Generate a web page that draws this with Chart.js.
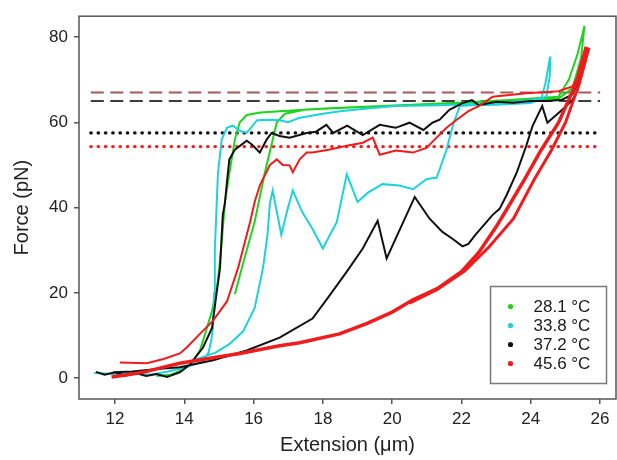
<!DOCTYPE html>
<html>
<head>
<meta charset="utf-8">
<script src="https://cdn.jsdelivr.net/npm/chart.js@4.4.0/dist/chart.umd.min.js"></script>
<style>
  html, body { margin: 0; padding: 0; background: #fff; }
</style>
</head>
<body>
<canvas id="fuerzaChart" width="617" height="460"></canvas>
<script>
// --- axis ticks ---
var xTicks = [12, 14, 16, 18, 20, 22, 24, 26];
var yTicks = [0, 20, 40, 60, 80];

var legendLabels = ['28.1 °C', '33.8 °C', '37.2 °C', '45.6 °C'];
var legendColors = ['#1fd31f', '#1ed2dc', '#111111', '#ee1c1c'];

// --- 28.1 C ---
var greenX = [13.2, 13.6, 13.9, 14.16, 14.45, 14.6, 14.8, 14.97, 15.08, 15.17, 15.3, 15.46, 15.6, 15.8, 16.2, 16.75, 18.2, 20.2, 21.9, 23.5, 24.8, 25.1, 25.35, 25.55, 25.45, 25.2, 24.8, 23, 21, 19, 17.5, 16.9, 16.67, 16.32, 16.03, 15.8, 15.6, 15.46];
var greenY = [0.5, 0.8, 1.8, 3, 6.5, 10.4, 15.8, 22.7, 32, 41, 48, 56, 60, 61.7, 62.3, 62.6, 63.3, 64, 64.6, 65.3, 66, 70, 76, 82.6, 75, 68, 65.5, 64.8, 64.2, 63.5, 63, 62, 60, 48, 36.7, 30, 24, 19.7];

// --- 33.8 C ---
var cyanX = [11.4, 12, 12.5, 13, 13.5, 14, 14.5, 14.7, 14.78, 14.83, 14.86, 14.88, 14.92, 14.97, 15.08, 15.23, 15.4, 15.6, 15.8, 15.95, 16.1, 16.5, 16.75, 17.0, 17.3, 18.0, 18.5, 19.2, 20.1, 21.4, 22.5, 23.5, 24.3, 24.42, 24.56, 24.55, 24.45, 24, 23, 22.3, 21.95, 21.74, 21.57, 21.37, 21.28, 21.0, 20.6, 20.2, 19.72, 19.3, 19.0, 18.69, 18.4, 18.2, 18.0, 17.7, 17.4, 17.13, 16.96, 16.8, 16.55, 16.47, 16.4, 16.27, 16.03, 15.7, 15.3, 14.9, 14.65, 14.1];
var cyanY = [1.2, 1, 1.3, 0.8, 1.5, 2.5, 3.8, 6, 9, 12, 20, 30, 38, 48, 56, 58.7, 59.2, 58, 57.5, 59, 60.5, 60.6, 60.5, 60, 61, 62, 62.6, 63.2, 63.8, 64, 64.3, 64.8, 65.5, 69, 75.4, 71, 66, 64.5, 64.1, 64, 63.8, 59, 53.6, 49, 47, 46.7, 44.3, 45.2, 45.5, 43.5, 41.3, 47.8, 36.6, 33.6, 30.4, 35, 39, 44, 39, 33.6, 44, 41, 33.6, 25.8, 16.5, 11, 8, 6, 5.3, 3.7];

// --- 37.2 C ---
var blackX = [11.45, 11.7, 12.0, 12.3, 12.6, 12.9, 13.2, 13.5, 13.87, 14.16, 14.54, 14.8, 14.9, 15.03, 15.08, 15.11, 15.17, 15.23, 15.3, 15.46, 15.8, 15.95, 16.18, 16.38, 16.52, 16.75, 17.04, 17.53, 17.8, 18.1, 18.3, 18.7, 19.15, 19.64, 20.1, 20.5, 20.9, 21.16, 21.37, 21.65, 22.03, 22.3, 22.5, 23, 23.5, 24, 24.5, 24.9, 25.2, 25.4, 25.55, 25.35, 25.2, 24.9, 24.48, 24.33, 24.05, 23.87, 23.6, 23.3, 23.1, 22.9, 22.4, 22.2, 22.03, 21.74, 21.45, 21.08, 20.65, 19.84, 19.58, 19.15, 18.69, 18.2, 17.7, 16.75, 15.8, 14.83, 13.87, 13.3, 12.5, 11.94];
var blackY = [1.5, 0.8, 1.4, 0.6, 1.2, 0.5, 1.0, 0.3, 1.4, 3.2, 7.2, 11.8, 18, 25.8, 33.6, 38.3, 41, 46, 51.3, 53.6, 55.7, 54.8, 52.9, 56, 57.5, 56.8, 56.4, 57.5, 57.8, 59.4, 57.5, 59.2, 57, 59.4, 58.7, 59.9, 58.2, 59.9, 60.6, 62.9, 64.5, 65.2, 64, 64.8, 64.6, 65, 65, 65.3, 66.5, 70, 74, 67.5, 65.2, 62.9, 59.9, 63.8, 59.1, 54.5, 48.3, 42.9, 39.7, 38.3, 33.6, 31.5, 30.9, 32.7, 34.3, 37.4, 42.5, 28.1, 36.9, 30.4, 25, 19.5, 14, 9.5, 6.5, 4.2, 2.6, 2.2, 1.6, 1.4];

// --- 45.6 C ---
var redPullX = [11.9, 12.5, 12.92, 13.4, 13.87, 14.83, 15.6, 16.75, 17.33, 18.48, 19.26, 20.0, 20.6, 21.3, 22.0, 22.5, 23.0, 23.3, 23.82, 24.3, 24.8, 25.3, 25.6];
var redPullY = [0.3, 1, 1.6, 2.6, 3.5, 4.8, 5.8, 7.6, 8.3, 10.4, 12.8, 15.5, 18.4, 21, 25, 29.5, 35.5, 39.5, 46.6, 53.5, 59.9, 69, 77.7];
var redPull2X = [20.5, 21.3, 22.1, 22.8, 23.5, 24.1, 24.6, 25.0, 25.4, 25.68];
var redPull2Y = [17.6, 20.8, 25.2, 30.8, 37.4, 46.6, 53.5, 59.9, 69, 77.5];
var redRelaxX = [25.62, 25.45, 25.2, 24.8, 23.87, 22.9, 22.5, 22.2, 21.86, 21.57, 21.28, 20.99, 20.6, 20.1, 19.64, 19.44, 19.15, 18.69, 18.2, 17.7, 17.53, 17.33, 17.13, 17.04, 16.84, 16.67, 16.47, 16.18, 16.03, 15.9, 15.8, 15.55, 15.23, 14.83, 14.45, 14.07, 13.87, 13.4, 12.92, 12.14];
var redRelaxY = [77, 72, 68.4, 67.3, 66.8, 66, 63.8, 62.6, 60.6, 58.7, 56.4, 54, 52.9, 53.4, 52.4, 56.4, 55.2, 54.5, 53.6, 52.9, 52.9, 51.3, 48.3, 49.9, 50, 51.3, 50, 45.2, 41.3, 36.7, 33.6, 25.8, 18, 13.5, 10.4, 7.2, 5.8, 4.5, 3.5, 3.7];

// --- horizontal reference levels ---
var refLevels = [67, 65, 57.5, 54.3];
var refStart = [11.3, 11.3, 11.3, 11.3];
var refEnd = [26.0, 26.0, 25.9, 25.9];

var fuente = '"Liberation Sans", Arial, sans-serif';
var chartFuerza = null;

function puntos(xs, ys) {
    return xs.map(function (x, i) { return { x: x, y: ys[i] }; });
}

function curva(xs, ys, color, ancho, orden) {
    return {
        data: puntos(xs, ys),
        borderColor: color,
        borderWidth: ancho,
        showLine: true,
        pointRadius: 0,
        tension: 0,
        order: orden
    };
}

function nivel(i, color, dash, ancho, cap) {
    return {
        data: puntos([refStart[i], refEnd[i]], [refLevels[i], refLevels[i]]),
        borderColor: color,
        borderWidth: ancho,
        borderDash: dash,
        borderCapStyle: cap,
        showLine: true,
        pointRadius: 0,
        order: 10
    };
}

// frame + legend box inside the plot
var marcoYLeyenda = {
    id: 'marcoYLeyenda',
    afterDraw: function (chart) {
        var ctx = chart.ctx, a = chart.chartArea;
        ctx.save();
        ctx.strokeStyle = '#555';
        ctx.lineWidth = 1.5;
        ctx.strokeRect(a.left, a.top, a.right - a.left, a.bottom - a.top);

        var bx = Math.round(a.right - 126) + 0.5, by = Math.round(a.bottom - 113) + 0.5;
        ctx.strokeStyle = '#7a7a7a';
        ctx.lineWidth = 1.5;
        ctx.strokeRect(bx, by, 116, 97);

        ctx.font = '17px ' + fuente;
        ctx.textBaseline = 'middle';
        ctx.textAlign = 'left';
        legendLabels.forEach(function (txt, i) {
            var yy = by + 20 + i * 19;
            ctx.fillStyle = legendColors[i];
            ctx.beginPath();
            ctx.arc(bx + 20, yy, 2.6, 0, Math.PI * 2);
            ctx.fill();
            ctx.fillStyle = '#1a1a1a';
            ctx.fillText(txt, bx + 43, yy + 1);
        });
        ctx.restore();
    }
};

function dibujarGrafico() {
    var ctx = document.getElementById('fuerzaChart').getContext('2d');

    chartFuerza = new Chart(ctx, {
        type: 'scatter',
        data: {
            datasets: [
                nivel(0, '#a35a5a', [13, 6.5], 2, 'butt'),
                nivel(1, '#3c3c3c', [13, 6.5], 2, 'butt'),
                nivel(2, '#111111', [0.5, 6.8], 3.2, 'round'),
                nivel(3, '#ee2222', [0.5, 6.8], 3.2, 'round'),
                curva(greenX, greenY, '#1fd31f', 2, 5),
                curva(cyanX, cyanY, '#1ed2dc', 2, 4),
                curva(blackX, blackY, '#111111', 2, 3),
                curva(redPullX, redPullY, '#ee1c1c', 3.5, 2),
                curva(redPull2X, redPull2Y, '#ee1c1c', 3, 2),
                curva(redRelaxX, redRelaxY, '#ee1c1c', 2, 1)
            ]
        },
        options: {
            responsive: false,
            animation: false,
            devicePixelRatio: 1,
            layout: { padding: { top: 12, right: 1, left: 0, bottom: 0 } },
            plugins: { legend: { display: false }, tooltip: { enabled: false } },
            scales: {
                x: {
                    type: 'linear',
                    min: 10.96,
                    max: 26.46,
                    afterBuildTicks: function (axis) { axis.ticks = xTicks.map(function (v) { return { value: v }; }); },
                    afterFit: function (axis) { axis.height = 61; },
                    border: { display: false },
                    grid: { drawOnChartArea: false, drawTicks: true, tickLength: 5, color: '#555', lineWidth: 1.5 },
                    ticks: { color: '#222', font: { family: fuente, size: 17 }, padding: 5, maxRotation: 0 },
                    title: { display: true, text: 'Extension (\u03bcm)', color: '#222', font: { family: fuente, size: 20 }, padding: { top: 0, bottom: 3 } }
                },
                y: {
                    type: 'linear',
                    min: -4.87,
                    max: 84.87,
                    afterBuildTicks: function (axis) { axis.ticks = yTicks.map(function (v) { return { value: v }; }); },
                    afterFit: function (axis) { axis.width = 79; },
                    border: { display: false },
                    grid: { drawOnChartArea: false, drawTicks: true, tickLength: 5, color: '#555', lineWidth: 1.5 },
                    ticks: { color: '#222', font: { family: fuente, size: 17 }, padding: 6 },
                    title: { display: true, text: 'Force (pN)', color: '#222', font: { family: fuente, size: 20 }, padding: { top: 10, bottom: 0 } }
                }
            }
        },
        plugins: [marcoYLeyenda]
    });
}

dibujarGrafico();
</script>
</body>
</html>
